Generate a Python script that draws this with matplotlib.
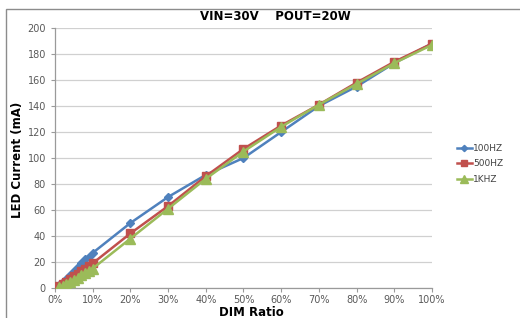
import matplotlib.pyplot as plt
from matplotlib.patches import Rectangle
from matplotlib.ticker import FuncFormatter

# Data
dim_ratio = [1, 2, 3, 4, 5, 6, 7, 8, 9, 10, 20, 30, 40, 50, 60, 70, 80, 90, 100]
current_100hz = [2, 4.5, 7, 10, 13, 16, 19, 22, 24, 27, 50, 70, 87, 100, 120, 140, 155, 173, 188]
current_500hz = [1.5, 3, 5, 7, 9, 11, 13, 15, 17, 19, 42, 63, 86, 107, 125, 141, 158, 174, 188]
current_1khz = [0.5, 1.5, 3, 4.5, 6, 8, 10, 11.5, 13, 15, 38, 61, 84, 105, 124, 141, 157, 173, 187]
series_names = ["100HZ", "500HZ", "1KHZ"]

W, H = 520, 318
fig = plt.figure(figsize=(W / 100, H / 100), dpi=100)

# Outer chart border (runs off the right/bottom edge like the screenshot)
fig.patches.append(Rectangle((6 / W, -0.1), 1.2, 1 - 9 / H + 0.1,
                             transform=fig.transFigure, fill=False,
                             edgecolor="#8c8c8c", linewidth=1.0))

ax = fig.add_axes([55 / W, 1 - 288 / H, (432 - 55) / W, (288 - 28) / H])

ax.plot(dim_ratio, current_100hz, color="#4F81BD", marker="D", markersize=4,
        linewidth=1.8, label=series_names[0], zorder=3)
ax.plot(dim_ratio, current_500hz, color="#C0504D", marker="s", markersize=6,
        linewidth=1.8, label=series_names[1], zorder=4)
ax.plot(dim_ratio, current_1khz, color="#9BBB59", marker="^", markersize=6.5,
        linewidth=1.8, label=series_names[2], zorder=5)

ax.set_xlim(0, 100)
ax.set_ylim(0, 200)
ax.set_xticks(range(0, 101, 10))
ax.set_yticks(range(0, 201, 20))
ax.xaxis.set_major_formatter(FuncFormatter(lambda v, p: f"{int(v)}%"))
ax.grid(axis="y", color="#d0d0d0", linewidth=0.9)
ax.set_axisbelow(True)

for side in ["top", "right"]:
    ax.spines[side].set_visible(False)
for side in ["left", "bottom"]:
    ax.spines[side].set_color("#9a9a9a")
    ax.spines[side].set_linewidth(0.9)
ax.tick_params(axis="both", colors="#9a9a9a", labelcolor="#595959",
               labelsize=7, length=3, width=0.8)
ax.tick_params(axis="x", pad=2)

fig.text(251 / W, 1 - 312 / H, "DIM Ratio", fontsize=8.5,
         fontweight="bold", ha="center", va="center")
fig.text(18 / W, 1 - 160 / H, "LED Current (mA)", fontsize=8.5,
         fontweight="bold", ha="center", va="center", rotation=90)

fig.text(275 / W, 1 - 17 / H, "VIN=30V    POUT=20W", fontsize=8.5,
         fontweight="bold", ha="center", va="center")

ax.legend(loc="center left", bbox_to_anchor=(449 / W, 1 - 164 / H),
          bbox_transform=fig.transFigure, frameon=False, fontsize=6.5,
          handlelength=1.6, handletextpad=0.2, labelspacing=0.7,
          markerscale=0.8, labelcolor="#404040")

fig.savefig("out.png", dpi=100)
